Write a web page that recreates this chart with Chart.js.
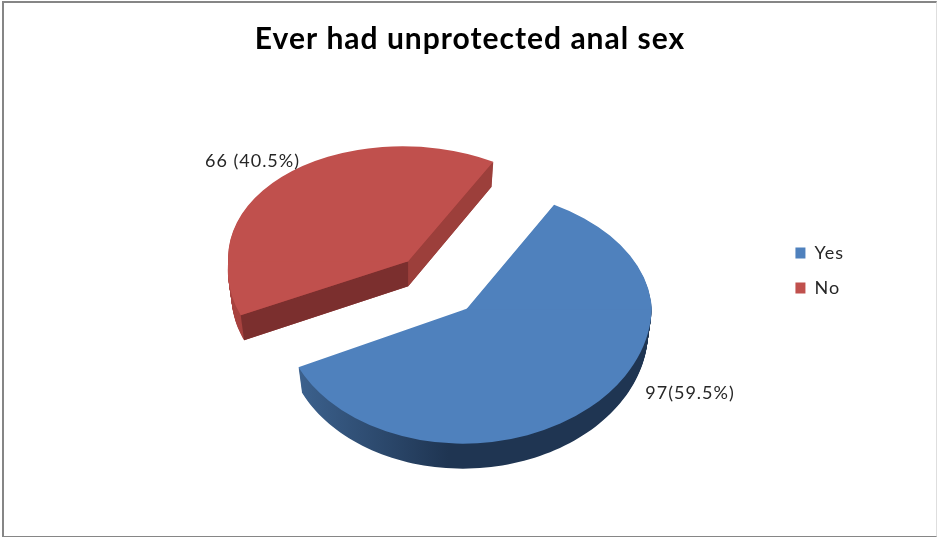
<!DOCTYPE html>
<html>
<head>
<meta charset="utf-8">
<title>Ever had unprotected anal sex</title>
<script src="https://cdn.jsdelivr.net/npm/chart.js@4"></script>
<style>
  html, body { margin: 0; padding: 0; background: #fff; }
  #wrap { position: relative; width: 937px; height: 537px; overflow: hidden; }
  #frame {
    position: absolute; left: 2px; top: 1px; right: 0; bottom: 0;
    border-left: 2px solid #868686; border-top: 2px solid #868686;
    border-bottom: 1px solid #868686; border-right: 1px solid #dedede;
    pointer-events: none;
  }
</style>
</head>
<body>
<div id="wrap">
  <canvas id="pie" width="937" height="537"></canvas>
  <div id="frame"></div>
</div>
<script>
const categories = ["Yes", "No"];
const counts = [97, 66];
const countLabels = ["97(59.5%)", "66 (40.5%)"];
const sliceColors = ["#4f81bd", "#c0504d"];

const FONT = "Lato, 'Open Sans', sans-serif";
const TEXT_COLOR = "#262626";

// tilted view of the pie: far half is flatter than the near half
const tilt = {
    centerX: 437.5, centerY: 285,
    explode: 43, explodeFlat: 0.75,
    depth: 25, narrowing: 0.02
};
const sliceShapes = [
    { rx: 185, ryTop: 120, ryBottom: 135, leanTop: 0.05, leanBottom: -0.03 },
    { rx: 180, ryTop: 115, ryBottom: 124, leanTop: 0.05, leanBottom: -0.1 }
];
const wallStops = [
    [[0, "#3f6694"], [0.45, "#1f3552"], [1, "#1f3552"]],
    [[0, "#a8423f"], [1, "#8c3533"]]
];
// side faces showing through the cut, [start edge, end edge]
const cutFaces = [
    [null, null],
    ["#7b2f2e", "#9c3f3b"]
];
const labelSpots = [
    { x: 690, y: 393 },
    { x: 252.5, y: 161 }
];

function rimPoint(apex, shape, angle) {
    const s = Math.sin(angle);
    const dy = s * (s < 0 ? shape.ryTop : shape.ryBottom);
    return {
        x: apex.x + Math.cos(angle) * shape.rx + dy * (s < 0 ? shape.leanTop : shape.leanBottom),
        y: apex.y + dy
    };
}

function dropPoint(apex, p, d) {
    // the lower edge of the wall sits slightly narrower
    const squeeze = 1 - tilt.narrowing * d / tilt.depth;
    return { x: apex.x + (p.x - apex.x) * squeeze, y: p.y + d };
}

function fillPolygon(ctx, pts, style) {
    ctx.beginPath();
    pts.forEach((p, i) => i ? ctx.lineTo(p.x, p.y) : ctx.moveTo(p.x, p.y));
    ctx.closePath();
    ctx.fillStyle = style;
    ctx.fill();
}

function drawWalls(ctx, arc, apex, shape, i) {
    const outline = [apex];
    const steps = 120;
    for (let k = 0; k <= steps; k++) {
        const a = arc.startAngle + (arc.endAngle - arc.startAngle) * k / steps;
        outline.push(rimPoint(apex, shape, a));
    }
    const grad = ctx.createLinearGradient(apex.x - shape.rx, 0, apex.x + shape.rx, 0);
    wallStops[i].forEach(s => grad.addColorStop(s[0], s[1]));
    for (let d = tilt.depth; d >= 1; d--) {
        fillPolygon(ctx, outline.map(p => dropPoint(apex, p, d)), grad);
    }
    const edges = [outline[1], outline[outline.length - 1]];
    edges.forEach((p, e) => {
        if (!cutFaces[i][e]) return;
        fillPolygon(ctx, [apex, p, dropPoint(apex, p, tilt.depth), dropPoint(apex, apex, tilt.depth)], cutFaces[i][e]);
    });
}

function drawFace(ctx, arc, apex, shape) {
    const radius = arc.outerRadius;
    const half = (top) => {
        const ry = (top ? shape.ryTop : shape.ryBottom) / radius;
        const lean = top ? shape.leanTop : shape.leanBottom;
        ctx.save();
        ctx.beginPath();
        if (top) ctx.rect(0, 0, 937, apex.y + 0.5);
        else ctx.rect(0, apex.y - 0.5, 937, 537);
        ctx.clip();
        ctx.transform(shape.rx / radius, 0, lean * ry, ry, apex.x, apex.y);
        ctx.translate(-arc.x, -arc.y);
        arc.draw(ctx);
        ctx.restore();
    };
    half(false);
    half(true);
}

const tiltedPie = {
    id: "tiltedPie",
    beforeUpdate(chart) {
        // the text on this chart is set a little loose
        chart.ctx.letterSpacing = "1px";
    },
    beforeDatasetsDraw(chart) {
        const ctx = chart.ctx;
        chart.getDatasetMeta(0).data.forEach((arc, i) => {
            const mid = (arc.startAngle + arc.endAngle) / 2;
            const apex = {
                x: tilt.centerX + Math.cos(mid) * tilt.explode,
                y: tilt.centerY + Math.sin(mid) * tilt.explode * tilt.explodeFlat
            };
            drawWalls(ctx, arc, apex, sliceShapes[i], i);
            drawFace(ctx, arc, apex, sliceShapes[i]);
        });
        return false;
    },
    afterDraw(chart) {
        const ctx = chart.ctx;
        ctx.save();
        ctx.font = "18px " + FONT;
        ctx.fillStyle = TEXT_COLOR;
        ctx.textAlign = "center";
        ctx.textBaseline = "middle";
        countLabels.forEach((txt, i) => ctx.fillText(txt, labelSpots[i].x, labelSpots[i].y));
        ctx.restore();
    }
};

new Chart(document.getElementById("pie"), {
    type: "pie",
    data: {
        labels: categories,
        datasets: [{
            data: counts,
            backgroundColor: sliceColors,
            borderWidth: 0,
            radius: 185,
            clip: false
        }]
    },
    options: {
        responsive: false,
        animation: false,
        rotation: 30,
        layout: { padding: { top: 4, left: 86, right: 83 } },
        plugins: {
            tooltip: { enabled: false },
            title: {
                display: true,
                text: "Ever had unprotected anal sex",
                color: "#000",
                font: { family: FONT, size: 30, weight: "bold" },
                padding: { top: 17, bottom: 21 }
            },
            legend: {
                position: "right",
                labels: {
                    color: TEXT_COLOR,
                    font: { family: FONT, size: 18 },
                    boxWidth: 10,
                    boxHeight: 11,
                    padding: 17
                }
            }
        }
    },
    plugins: [tiltedPie]
});
</script>
</body>
</html>
